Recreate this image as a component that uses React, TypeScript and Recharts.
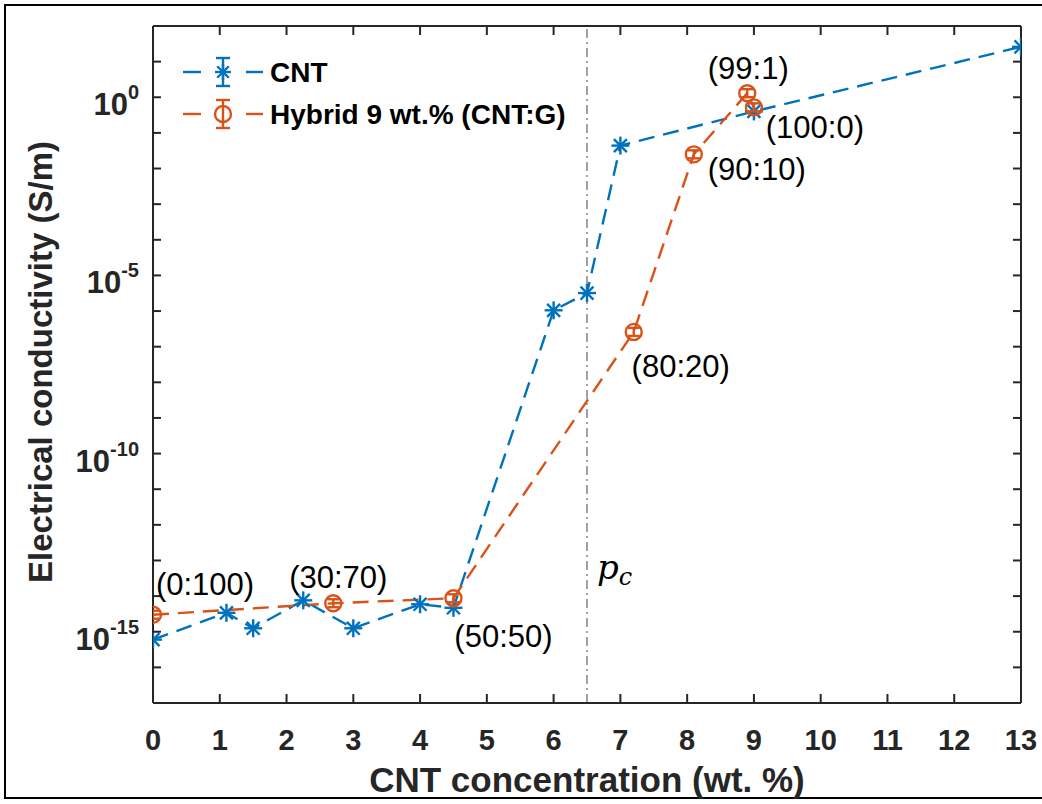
import React from "react";
import {
  LineChart,
  Line,
  XAxis,
  YAxis,
  ReferenceLine,
  ReferenceDot,
  LabelList,
  Legend,
} from "recharts";

// ---------- data ----------
const cntX = [0, 1.1, 1.5, 2.25, 3, 4, 4.5, 6, 6.5, 7, 9, 13];
const cntY = [6e-16, 3.4e-15, 1.25e-15, 7.6e-15, 1.25e-15, 5.9e-15, 4.7e-15, 1.05e-6, 3.2e-6, 4.4e-2, 0.4, 26];

const hybX = [0, 2.7, 4.5, 7.2, 8.1, 8.9, 9];
const hybY = [3e-15, 6.3e-15, 8.7e-15, 2.6e-7, 2.5e-2, 1.3, 0.52];
const hybLabels = ["(0:100)", "(30:70)", "(50:50)", "(80:20)", "(90:10)", "(99:1)", "(100:0)"];

const xTicks = [0, 1, 2, 3, 4, 5, 6, 7, 8, 9, 10, 11, 12, 13];
const yExponents = [-17, -16, -15, -14, -13, -12, -11, -10, -9, -8, -7, -6, -5, -4, -3, -2, -1, 0, 1, 2];
const yLabelExponents = [-15, -10, -5, 0];
const percolation = 6.5;
const pcLabelY = 3e-14;

// ---------- styling (kept apart from data) ----------
const BLUE = "#0072BD";
const ORANGE = "#D95319";
const AXIS = "#262626";
const FONT = "'Liberation Sans', Arial, Helvetica, sans-serif";
const labelOffsets: [number, number][] = [
  [52, -31],
  [5, -26],
  [50, 38],
  [47, 34],
  [63, 15],
  [1, -25],
  [61, 20],
];

const cntData = cntX.map((x, i) => ({ x, y: cntY[i] }));
const hybData = hybX.map((x, i) => ({ x, y: hybY[i], label: hybLabels[i] }));
const yTicks = yExponents.map((e) => Math.pow(10, e));

const Asterisk = ({ cx, cy, s = 9, color = BLUE }: any) => {
  const d = s * 0.72;
  return (
    <g stroke={color} strokeWidth={2.4} strokeLinecap="butt">
      <line x1={cx - s} y1={cy} x2={cx + s} y2={cy} />
      <line x1={cx} y1={cy - s} x2={cx} y2={cy + s} />
      <line x1={cx - d} y1={cy - d} x2={cx + d} y2={cy + d} />
      <line x1={cx - d} y1={cy + d} x2={cx + d} y2={cy - d} />
    </g>
  );
};

const CircleMark = ({ cx, cy, r = 8, color = ORANGE, err = 4, cap = 6 }: any) => (
  <g stroke={color} strokeWidth={2.4} fill="none">
    <circle cx={cx} cy={cy} r={r} />
    <line x1={cx} y1={cy - err} x2={cx} y2={cy + err} />
    <line x1={cx - cap} y1={cy - err} x2={cx + cap} y2={cy - err} />
    <line x1={cx - cap} y1={cy + err} x2={cx + cap} y2={cy + err} />
  </g>
);

const renderCntDot = (props: any) => {
  const { cx, cy, index } = props;
  if (cx == null || cy == null) return <g key={`c${index}`} />;
  return <Asterisk key={`c${index}`} cx={cx} cy={cy} />;
};

const renderHybDot = (props: any) => {
  const { cx, cy, index } = props;
  if (cx == null || cy == null) return <g key={`h${index}`} />;
  return <CircleMark key={`h${index}`} cx={cx} cy={cy} />;
};

const renderHybLabel = (props: any) => {
  const { x, y, value, index } = props;
  const [dx, dy] = labelOffsets[index] || [0, 0];
  return (
    <text
      x={x + dx}
      y={y + dy + 11}
      textAnchor="middle"
      fontFamily={FONT}
      fontSize={31}
      fill="#000"
    >
      {value}
    </text>
  );
};

const XTickBottom = (props: any) => {
  const { x, y, payload } = props;
  return (
    <g>
      <line x1={x} y1={y} x2={x} y2={y - 9} stroke={AXIS} strokeWidth={2} />
      <text x={x} y={y + 47} textAnchor="middle" fontFamily={FONT} fontWeight="bold" fontSize={29} fill={AXIS}>
        {payload.value}
      </text>
    </g>
  );
};

const XTickTop = (props: any) => {
  const { x, y } = props;
  return <line x1={x} y1={y} x2={x} y2={y + 9} stroke={AXIS} strokeWidth={2} />;
};

const YTickLeft = (props: any) => {
  const { x, y, payload } = props;
  const e = Math.round(Math.log10(payload.value));
  const show = yLabelExponents.includes(e);
  return (
    <g>
      <line x1={x} y1={y} x2={x + 8} y2={y} stroke={AXIS} strokeWidth={2} />
      {show && (
        <text x={x - 14} y={y + 18} textAnchor="end" fontFamily={FONT} fontWeight="bold" fontSize={31} fill={AXIS}>
          <tspan>10</tspan>
          <tspan dy={-16} fontSize={20}>
            {e}
          </tspan>
        </text>
      )}
    </g>
  );
};

const YTickRight = (props: any) => {
  const { x, y } = props;
  return <line x1={x} y1={y} x2={x - 8} y2={y} stroke={AXIS} strokeWidth={2} />;
};

const LegendContent = () => {
  const rows = [
    { name: "CNT", color: BLUE, kind: "star" },
    { name: "Hybrid 9 wt.% (CNT:G)", color: ORANGE, kind: "circle" },
  ];
  return (
    <svg width={440} height={95} style={{ display: "block" }}>
      {rows.map((r, i) => {
        const cy = 22 + i * 42;
        return (
          <g key={r.name}>
            <line x1={8} y1={cy} x2={26} y2={cy} stroke={r.color} strokeWidth={2.4} />
            <line x1={71} y1={cy} x2={88} y2={cy} stroke={r.color} strokeWidth={2.4} />
            <g stroke={r.color} strokeWidth={2.4}>
              <line x1={48} y1={cy - 14} x2={48} y2={cy + 14} />
              <line x1={41} y1={cy - 14} x2={55} y2={cy - 14} />
              <line x1={41} y1={cy + 14} x2={55} y2={cy + 14} />
            </g>
            {r.kind === "star" ? (
              <Asterisk cx={48} cy={cy} s={8} color={r.color} />
            ) : (
              <circle cx={48} cy={cy} r={8} stroke={r.color} strokeWidth={2.4} fill="none" />
            )}
            <text x={95} y={cy + 10} fontFamily={FONT} fontWeight="bold" fontSize={28} fill="#000">
              {r.name}
            </text>
          </g>
        );
      })}
    </svg>
  );
};

const PcLabel = (props: any) => {
  const { viewBox } = props;
  const cx = viewBox.cx ?? viewBox.x;
  const cy = viewBox.cy ?? viewBox.y;
  return (
    <text x={cx + 10} y={cy} fontFamily="'DejaVu Serif', 'Liberation Serif', serif" fontStyle="italic" fontSize={34} fill="#000">
      p
      <tspan dy={6} fontSize={24}>
        c
      </tspan>
    </text>
  );
};

export default function App() {
  return (
    <div style={{ position: "absolute", left: 0, top: 0, width: 1042, height: 804, overflow: "hidden", background: "#fff" }}>
      <div
        style={{
          position: "absolute",
          left: 4,
          top: 4,
          width: 1060,
          height: 795,
          border: "2px solid #000",
          boxSizing: "border-box",
        }}
      />
      <div style={{ position: "absolute", left: 0, top: 0 }}>
        <LineChart width={1042} height={804} margin={{ top: 25, right: 20, bottom: 61, left: 93 }}>
          <XAxis
            xAxisId="top"
            orientation="top"
            type="number"
            dataKey="x"
            domain={[0, 13]}
            ticks={xTicks}
            interval={0}
            height={1}
            tickSize={0}
            tickMargin={0}
            tickLine={false}
            tick={<XTickTop />}
            axisLine={{ stroke: AXIS, strokeWidth: 2 }}
            allowDataOverflow
          />
          <XAxis
            type="number"
            dataKey="x"
            domain={[0, 13]}
            ticks={xTicks}
            interval={0}
            height={40}
            tickSize={0}
            tickMargin={0}
            tickLine={false}
            tick={<XTickBottom />}
            axisLine={{ stroke: AXIS, strokeWidth: 2 }}
            allowDataOverflow
          />
          <YAxis
            scale="log"
            type="number"
            domain={[1e-17, 1e2]}
            ticks={yTicks}
            interval={0}
            width={60}
            tickSize={0}
            tickMargin={0}
            tickLine={false}
            tick={<YTickLeft />}
            axisLine={{ stroke: AXIS, strokeWidth: 2 }}
            allowDataOverflow
          />
          <YAxis
            yAxisId="right"
            orientation="right"
            scale="log"
            type="number"
            domain={[1e-17, 1e2]}
            ticks={yTicks}
            interval={0}
            width={1}
            tickSize={0}
            tickMargin={0}
            tickLine={false}
            tick={<YTickRight />}
            axisLine={{ stroke: AXIS, strokeWidth: 2 }}
            allowDataOverflow
          />
          <ReferenceLine x={percolation} stroke="#444" strokeWidth={1} strokeDasharray="9 4 2 4" />
          <ReferenceDot x={percolation} y={pcLabelY} r={0} fill="none" stroke="none" label={<PcLabel />} />
          <Legend
            layout="vertical"
            align="center"
            verticalAlign="middle"
            content={<LegendContent />}
            wrapperStyle={{ position: "absolute", left: 175, top: 50, width: 440 }}
          />
          <Line
            data={cntData}
            dataKey="y"
            name="CNT"
            stroke={BLUE}
            strokeWidth={2.4}
            strokeDasharray="16 9"
            dot={renderCntDot}
            activeDot={false}
            isAnimationActive={false}
          />
          <Line
            data={hybData}
            dataKey="y"
            name="Hybrid 9 wt.% (CNT:G)"
            stroke={ORANGE}
            strokeWidth={2.4}
            strokeDasharray="16 9"
            dot={renderHybDot}
            activeDot={false}
            isAnimationActive={false}
          >
            <LabelList dataKey="label" content={renderHybLabel} />
          </Line>
        </LineChart>
      </div>
      <div
        style={{
          position: "absolute",
          left: 0,
          top: 0,
          width: 1042,
          height: 804,
          pointerEvents: "none",
        }}
      >
        <svg width={1042} height={804}>
          <text
            x={587}
            y={792}
            textAnchor="middle"
            fontFamily={FONT}
            fontWeight="bold"
            fontSize={35}
            fill={AXIS}
          >
            CNT concentration (wt. %)
          </text>
          <text
            transform="translate(52,362) rotate(-90)"
            textAnchor="middle"
            fontFamily={FONT}
            fontWeight="bold"
            fontSize={33}
            fill={AXIS}
          >
            Electrical conductivity (S/m)
          </text>
        </svg>
      </div>
    </div>
  );
}
